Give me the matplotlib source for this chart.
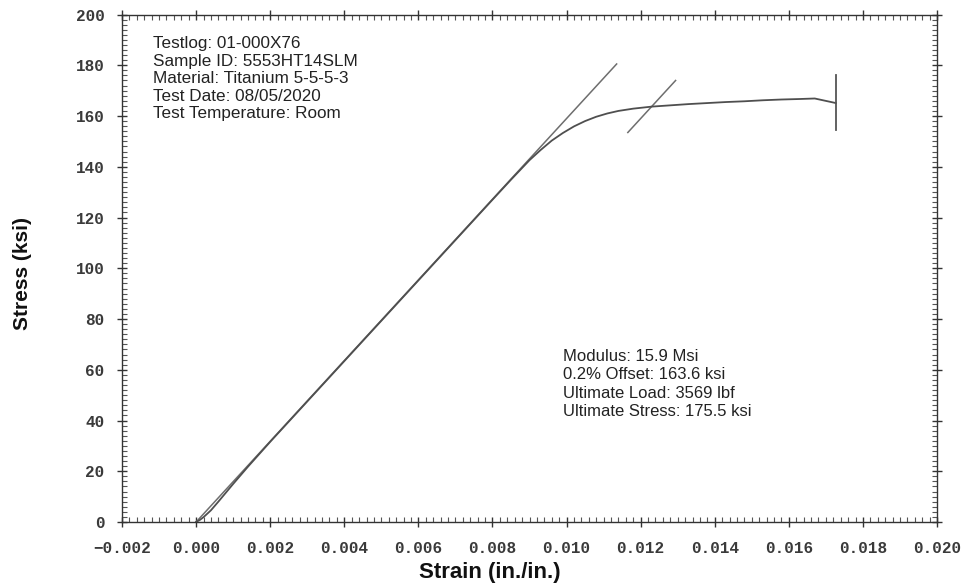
import numpy as np
import matplotlib
matplotlib.use("Agg")
import matplotlib.pyplot as plt
from matplotlib.ticker import MultipleLocator, FixedLocator

# Measured stress-strain record
strain = [0.0, 0.0001, 0.0002, 0.0004, 0.0006, 0.0008, 0.0010, 0.0014, 0.0020,
          0.0030, 0.0040, 0.0050, 0.0060, 0.0070, 0.0080, 0.0085, 0.0090,
          0.0093, 0.0096, 0.0099, 0.0102, 0.0105, 0.0108, 0.0111, 0.0114,
          0.0118, 0.0123, 0.0128, 0.0133, 0.0138, 0.0143, 0.0148, 0.0153,
          0.0158, 0.0163, 0.0167, 0.01727]
stress = [0.0, 0.8, 1.9, 4.6, 8.0, 11.5, 15.0, 21.8, 31.6,
          47.5, 63.4, 79.3, 95.2, 111.1, 127.0, 134.9, 142.6,
          146.6, 150.3, 153.3, 155.9, 158.0, 159.7, 161.0, 162.0,
          162.9, 163.7, 164.2, 164.7, 165.1, 165.5, 165.8, 166.2,
          166.5, 166.7, 166.9, 165.1]

# Fit results
modulus_ksi = 15900.0          # 15.9 Msi
offset_strain = 0.002          # 0.2 % offset
modulus_stress_range = [0.0, 180.5]
offset_stress_range = [153.5, 174.0]
break_marker_stress = [154.5, 176.0]

x_ticks = [-0.002, 0.000, 0.002, 0.004, 0.006, 0.008, 0.010, 0.012, 0.014,
           0.016, 0.018, 0.020]
y_ticks = [0, 20, 40, 60, 80, 100, 120, 140, 160, 180, 200]

header_lines = ["Testlog: 01-000X76", "Sample ID: 5553HT14SLM",
                "Material: Titanium 5-5-5-3", "Test Date: 08/05/2020",
                "Test Temperature: Room"]
result_lines = ["Modulus: 15.9 Msi", "0.2% Offset: 163.6 ksi",
                "Ultimate Load: 3569 lbf", "Ultimate Stress: 175.5 ksi"]

fig = plt.figure(figsize=(9.64, 5.84), dpi=100)
ax = fig.add_axes([0.12656, 0.10616, 0.84544, 0.86901])

# Elastic modulus line and 0.2 % offset line
ms = np.array(modulus_stress_range)
ax.plot(ms / modulus_ksi, ms, color="#6e6e6e", lw=1.1)
os_ = np.array(offset_stress_range)
ax.plot(os_ / modulus_ksi + offset_strain, os_, color="#6e6e6e", lw=1.1)

# Test curve
ax.plot(strain, stress, color="#4f4f4f", lw=1.3)

# Break marker at the final point
ax.plot([strain[-1], strain[-1]], break_marker_stress, color="#555555", lw=1.3)

ax.set_xlim(-0.002, 0.020)
ax.set_ylim(0, 200)
ax.xaxis.set_major_locator(FixedLocator(x_ticks))
ax.yaxis.set_major_locator(FixedLocator(y_ticks))
ax.xaxis.set_minor_locator(MultipleLocator(0.0002))
ax.yaxis.set_minor_locator(MultipleLocator(2))
ax.set_xticklabels([f"{v:.3f}".replace("-", "\u2212") for v in x_ticks])
ax.set_yticklabels([str(v) for v in y_ticks])

for lab in ax.get_xticklabels() + ax.get_yticklabels():
    lab.set_fontfamily("Liberation Mono")
    lab.set_fontweight("bold")
    lab.set_fontsize(11.5)
    lab.set_color("#3a3a3a")

ax.tick_params(which="major", direction="inout", length=7, width=1.0,
               color="#333333", top=True, right=True)
ax.tick_params(axis="x", which="major", pad=10)
ax.tick_params(axis="y", which="major", pad=9)
ax.tick_params(which="minor", direction="in", length=3.5, width=0.8,
               color="#555555", top=True, right=True)
for s in ax.spines.values():
    s.set_color("#333333")
    s.set_linewidth(1.0)

ax.set_xlabel("Strain (in./in.)", fontfamily="Liberation Sans",
              fontweight="bold", fontsize=16, color="#111111")
ax.set_ylabel("Stress (ksi)", fontfamily="Liberation Sans",
              fontweight="bold", fontsize=15, color="#111111")
ax.xaxis.set_label_coords(0.4515, -0.0986)
ax.xaxis.label.set_va("center")
ax.yaxis.set_label_coords(-0.1215, 0.489)
ax.yaxis.label.set_va("center")

ax.text(0.0385, 0.957, "\n".join(header_lines), transform=ax.transAxes,
        ha="left", va="top", fontfamily="Liberation Sans", fontsize=12.3,
        linespacing=1.2, color="#222222")
ax.text(0.541, 0.341, "\n".join(result_lines), transform=ax.transAxes,
        ha="left", va="top", fontfamily="Liberation Sans", fontsize=12,
        linespacing=1.28, color="#222222")

fig.savefig("out.png", dpi=100, facecolor="white")
